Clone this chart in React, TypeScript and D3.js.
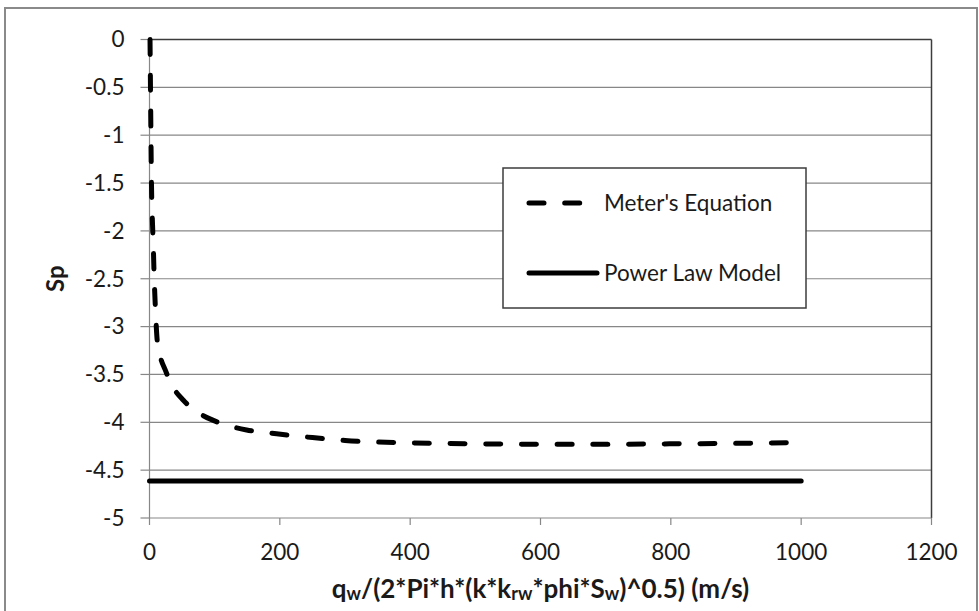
import React from "react";
import * as d3 from "d3";

const meterX = [0.8, 1.5, 2.2, 3, 4, 5, 6, 7, 8.5, 10, 12, 16, 24, 35, 52, 75, 98, 149, 195, 250, 300, 400, 500, 600, 700, 800, 900, 1000];
const meterY = [0, -0.5, -1.0, -1.5, -1.8, -2.0, -2.2, -2.45, -2.72, -2.95, -3.16, -3.3, -3.45, -3.62, -3.77, -3.9, -3.98, -4.08, -4.12, -4.16, -4.19, -4.215, -4.225, -4.23, -4.23, -4.225, -4.22, -4.213];
const powerX = [0, 1000];
const powerY = [-4.613, -4.613];
const xTicks = [0, 200, 400, 600, 800, 1000, 1200];
const yTicks = [0, -0.5, -1, -1.5, -2, -2.5, -3, -3.5, -4, -4.5, -5];
const seriesNames = ["Meter's Equation", "Power Law Model"];

const W = 979;
const H = 611;
const L = 149.5, R = 931.5, T = 39.5, B = 518;
const FONT = "Lato, 'Open Sans', sans-serif";

export default function App() {
  const x = d3.scaleLinear().domain([0, 1200]).range([L, R]);
  const y = d3.scaleLinear().domain([-5, 0]).range([B, T]);
  const line = d3
    .line<[number, number]>()
    .x((d) => x(d[0]))
    .y((d) => y(d[1]))
    .curve(d3.curveMonotoneX);
  const meter: [number, number][] = meterX.map((v, i) => [v, meterY[i]]);
  const power: [number, number][] = powerX.map((v, i) => [v, powerY[i]]);
  const grid = "#878787";
  const dark = "#3c3c3c";
  const dash = "15,20.7";

  return (
    <svg
      width={W}
      height={H}
      style={{ position: "absolute", left: 0, top: 0, background: "#fff" }}
      fontFamily={FONT}
    >
      <rect x={0} y={0} width={W} height={H} fill="#fff" />
      <rect x={5} y={8} width={972} height={620} fill="#fff" stroke="#8a8a8a" strokeWidth={2} />
      {/* gridlines */}
      {yTicks.filter((t) => t !== 0 && t !== -5).map((t) => (
        <line key={t} x1={L} x2={R} y1={y(t)} y2={y(t)} stroke={grid} strokeWidth={1.2} />
      ))}
      {/* plot border top & right */}
      <line x1={L} x2={R} y1={T} y2={T} stroke={dark} strokeWidth={1.5} />
      <line x1={R} x2={R} y1={T} y2={B} stroke={dark} strokeWidth={1.5} />
      {/* axes */}
      <line x1={L} x2={L} y1={T} y2={B} stroke={grid} strokeWidth={1.2} />
      <line x1={L} x2={R} y1={B} y2={B} stroke={grid} strokeWidth={1.2} />
      {yTicks.map((t) => (
        <g key={t}>
          <line x1={L - 9} x2={L} y1={y(t)} y2={y(t)} stroke={grid} strokeWidth={1.2} />
          <text x={124.5} y={y(t)} dy="0.35em" textAnchor="end" fontSize={22.5} fill="#1a1a1a">
            {d3.format("")(t).replace("−", "-")}
          </text>
        </g>
      ))}
      {xTicks.map((t) => (
        <g key={t}>
          <line x1={x(t)} x2={x(t)} y1={B} y2={B + 7} stroke={grid} strokeWidth={1.2} />
          <text x={x(t)} y={552} dy="0.35em" textAnchor="middle" fontSize={22.5} fill="#1a1a1a">
            {t}
          </text>
        </g>
      ))}
      {/* series */}
      <path d={line(power) || ""} fill="none" stroke="#000" strokeWidth={5} strokeLinecap="round" />
      <path
        d={line(meter) || ""}
        fill="none"
        stroke="#000"
        strokeWidth={5}
        strokeLinecap="round"
        strokeDasharray={dash}
      />
      {/* legend */}
      <rect x={503} y={168} width={303} height={140} fill="#fff" stroke={dark} strokeWidth={1.5} />
      <line x1={529} x2={582} y1={203} y2={203} stroke="#000" strokeWidth={5} strokeLinecap="round" strokeDasharray={dash} />
      <text x={604} y={203} dy="0.35em" fontSize={22.5} fill="#1a1a1a">{seriesNames[0]}</text>
      <line x1={529} x2={597} y1={273} y2={273} stroke="#000" strokeWidth={5} strokeLinecap="round" />
      <text x={604} y={273} dy="0.35em" fontSize={22.5} fill="#1a1a1a">{seriesNames[1]}</text>
      {/* axis titles */}
      <text
        transform={`translate(56,${(T + B) / 2}) rotate(-90)`}
        textAnchor="middle"
        dy="0.35em"
        fontSize={24}
        fontWeight="bold"
        fill="#1a1a1a"
      >
        Sp
      </text>
      <text x={(L + R) / 2} y={589} dy="0.35em" textAnchor="middle" fontSize={26} fontWeight="bold" fill="#1a1a1a">
        q<tspan fontSize={18} dy={2}>w</tspan>
        <tspan dy={-2}>/(2*Pi*h*(k*k</tspan>
        <tspan fontSize={18} dy={2}>rw</tspan>
        <tspan dy={-2}>*phi*S</tspan>
        <tspan fontSize={18} dy={2}>w</tspan>
        <tspan dy={-2}>)^0.5) (m/s)</tspan>
      </text>
    </svg>
  );
}
